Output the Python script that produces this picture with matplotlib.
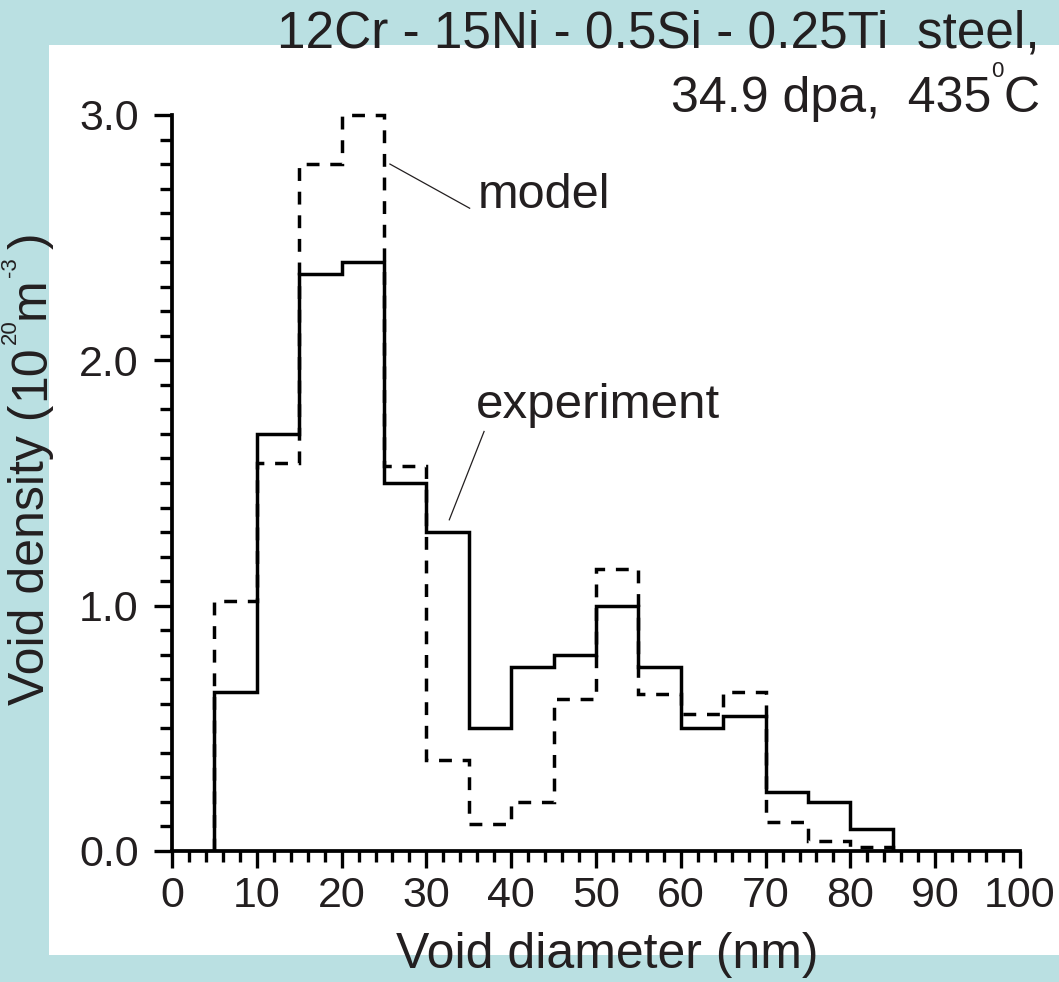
import matplotlib
matplotlib.use("Agg")
import matplotlib.pyplot as plt
from matplotlib.patches import Rectangle

# Void size distribution: 5 nm bins from 5 to 85 nm
bin_edges = [5, 10, 15, 20, 25, 30, 35, 40, 45, 50, 55, 60, 65, 70, 75, 80, 85]
experiment = [0.65, 1.70, 2.35, 2.40, 1.50, 1.30, 0.50, 0.75, 0.80, 1.00,
              0.75, 0.50, 0.55, 0.24, 0.20, 0.09]
model = [1.02, 1.58, 2.80, 3.00, 1.57, 0.37, 0.11, 0.20, 0.62, 1.15,
         0.64, 0.56, 0.65, 0.12, 0.04, 0.015]

x_ticks = [0, 10, 20, 30, 40, 50, 60, 70, 80, 90, 100]
y_ticks = [0.0, 1.0, 2.0, 3.0]
y_tick_labels = ["0.0", "1.0", "2.0", "3.0"]

title_line1 = "12Cr - 15Ni - 0.5Si - 0.25Ti  steel,"

plt.rcParams["font.family"] = ["Liberation Sans", "DejaVu Sans"]

INK = "#231f20"
BG = "#bae0e2"

W, H = 1059, 982
fig = plt.figure(figsize=(W / 100, H / 100), dpi=100)
fig.patch.set_facecolor(BG)
renderer = fig.canvas.get_renderer()


def rich_text(x_px, y_px, pieces, align="left", vertical=False):
    """Lay out (text, size, rise_px, gap_before_px) pieces along one baseline.

    x_px, y_px are pixel coordinates from the lower-left corner of the figure.
    With vertical=True the baseline runs upwards (text rotated 90 degrees).
    """
    widths = []
    for s, size, _, gap in pieces:
        t = fig.text(0, 0, s, fontsize=size)
        widths.append(t.get_window_extent(renderer).width + gap)
        t.remove()
    total = sum(widths)
    pos = {"left": 0.0, "center": -total / 2, "right": -total}[align]
    for (s, size, rise, gap), w in zip(pieces, widths):
        pos += gap
        if vertical:
            px, py = x_px - rise, y_px + pos
            fig.text(px / W, py / H, s, fontsize=size, color=INK, rotation=90,
                     rotation_mode="anchor", ha="left", va="baseline")
        else:
            px, py = x_px + pos, y_px + rise
            fig.text(px / W, py / H, s, fontsize=size, color=INK,
                     ha="left", va="baseline")
        pos += w - gap


# white panel
fig.patches.append(Rectangle((49 / W, 1 - 955 / H), 1 - 49 / W, (955 - 45) / H,
                             transform=fig.transFigure, facecolor="white",
                             edgecolor="none", zorder=-5))

ax = fig.add_axes([172 / W, 1 - 851 / H, (1020 - 172) / W, (851 - 115) / H])
ax.set_zorder(2)
ax.set_facecolor("none")

ax.stairs(model, bin_edges, baseline=0, color="black", lw=2.5,
          linestyle=(0, (3.7, 3.1)), clip_on=False, zorder=3)
ax.stairs(experiment, bin_edges, baseline=0, color="black", lw=2.5,
          clip_on=False, zorder=4)

ax.set_xlim(0, 100)
ax.set_ylim(0, 3.0)

for side in ("top", "right"):
    ax.spines[side].set_visible(False)
for side in ("left", "bottom"):
    ax.spines[side].set_linewidth(2.7)
    ax.spines[side].set_color("black")

ax.set_xticks(x_ticks)
ax.set_xticks([v for v in range(0, 101, 2)], minor=True)
ax.set_yticks(y_ticks)
ax.set_yticklabels(y_tick_labels)
ax.set_yticks([i / 10 for i in range(0, 31)], minor=True)

ax.tick_params(axis="x", which="major", direction="out", length=12, width=2.4,
               pad=6, labelsize=31, labelcolor=INK)
ax.tick_params(axis="x", which="minor", direction="out", length=8, width=2.4)
ax.tick_params(axis="y", which="major", direction="out", length=13, width=2.4,
               pad=11, labelsize=31, labelcolor=INK)
ax.tick_params(axis="y", which="minor", direction="out", length=8.5, width=2.4)

# axis titles
fig.text(607 / W, 1 - 968 / H, "Void diameter (nm)", ha="center", va="baseline",
         fontsize=36, color=INK)
rich_text(44, H - 705,
          [("Void density (", 36, 0, 0), ("10", 36, 0, 5), ("20", 16, 28, 0),
           ("m", 36, 0, 0), ("-3", 16, 28, 1), (")", 36, 0, 8)],
          align="left", vertical=True)

# header
fig.text(1040 / W, 1 - 47 / H, title_line1, ha="right", va="baseline",
         fontsize=37, color=INK)
rich_text(1040, H - 112,
          [("34.9 dpa,  435", 36, 0, 0), ("0", 16, 35, 0), ("C", 36, 0, 0)],
          align="right")

# curve labels with leader lines
ax.text(36.0, 2.62, "model", fontsize=35, color=INK, va="baseline", ha="left")
ax.plot([25.7, 35.1], [2.80, 2.62], color=INK, lw=0.9, clip_on=False)
ax.text(35.8, 1.765, "experiment", fontsize=35.5, color=INK, va="baseline", ha="left")
ax.plot([36.8, 32.7], [1.71, 1.35], color=INK, lw=0.9, clip_on=False)

fig.savefig("out.png", dpi=100, facecolor=BG)
